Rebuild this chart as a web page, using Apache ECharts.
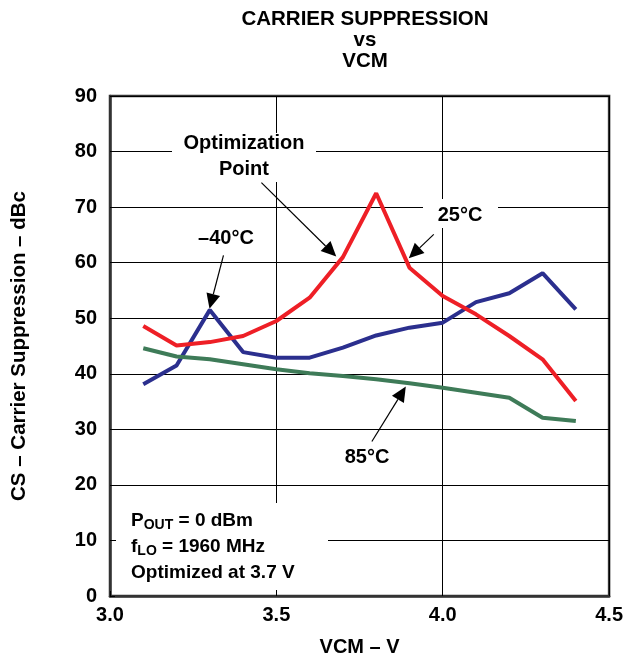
<!DOCTYPE html>
<html>
<head>
<meta charset="utf-8">
<title>Carrier Suppression vs VCM</title>
<script src="https://cdn.jsdelivr.net/npm/echarts@6/dist/echarts.min.js"></script>
<style>
  html, body { margin: 0; padding: 0; background: #fff; }
  #chart { width: 626px; height: 662px; }
</style>
</head>
<body>
<div id="chart"></div>
<script>
// VCM (V) sample points
var vcm = [3.1, 3.2, 3.3, 3.4, 3.5, 3.6, 3.7, 3.8, 3.9, 4.0, 4.1, 4.2, 4.3, 4.4];
// carrier suppression (dBc) per temperature
var cs25 = [48.6, 45.1, 45.7, 46.8, 49.5, 53.7, 61.0, 72.5, 59.1, 54.0, 50.7, 46.8, 42.6, 35.1];
var csMinus40 = [38.1, 41.5, 51.5, 43.9, 42.9, 42.9, 44.7, 46.9, 48.3, 49.2, 52.9, 54.5, 58.1, 51.6];
var cs85 = [44.6, 43.1, 42.6, 41.7, 40.8, 40.1, 39.6, 39.0, 38.3, 37.5, 36.6, 35.7, 32.1, 31.5];
var seriesNames = ['–40°C', '25°C', '85°C'];

var font = "'Liberation Sans', Arial, Helvetica, sans-serif";

function pairs(ys) {
    return vcm.map(function (x, i) { return [x, ys[i]]; });
}

var myChart = echarts.init(document.getElementById('chart'));

var option = {
    animation: false,
    title: {
        text: 'CARRIER SUPPRESSION\nvs\nVCM',
        left: 360,
        top: 4,
        textAlign: 'center',
        textStyle: { fontFamily: font, fontWeight: 'bold', fontSize: 20.5, lineHeight: 21, color: '#000' }
    },
    grid: {
        left: 110, right: 15, top: 96, bottom: 66,
        show: true, borderColor: '#333', borderWidth: 2.5
    },
    xAxis: {
        type: 'value', min: 3.0, max: 4.5, interval: 0.5,
        name: 'VCM – V', nameLocation: 'middle', nameGap: 41,
        nameTextStyle: { fontFamily: font, fontWeight: 'bold', fontSize: 20, color: '#000' },
        axisLine: { lineStyle: { color: '#333', width: 2.5 } },
        axisTick: { show: true, inside: true, length: 5, lineStyle: { color: '#000' } },
        axisLabel: {
            margin: 9, fontFamily: font, fontWeight: 'bold', fontSize: 20, color: '#000',
            formatter: function (v) { return v.toFixed(1); }
        },
        splitLine: { show: true, lineStyle: { color: '#000', width: 1 } }
    },
    yAxis: {
        type: 'value', min: 0, max: 90, interval: 10,
        name: 'CS – Carrier Suppression – dBc', nameLocation: 'middle', nameGap: 80,
        nameTextStyle: { fontFamily: font, fontWeight: 'bold', fontSize: 20.5, color: '#000' },
        axisLine: { show: true, lineStyle: { color: '#333', width: 2.5 } },
        axisTick: { show: true, inside: true, length: 5, lineStyle: { color: '#000' } },
        axisLabel: { margin: 13, fontFamily: font, fontWeight: 'bold', fontSize: 20, color: '#000' },
        splitLine: { show: true, lineStyle: { color: '#000', width: 1 } }
    },
    series: [{
        name: seriesNames[0], type: 'line', data: pairs(csMinus40), z: 3,
        symbol: 'none', lineStyle: { color: '#2b2f8e', width: 4 }
    }, {
        name: seriesNames[1], type: 'line', data: pairs(cs25), z: 4,
        symbol: 'none', lineStyle: { color: '#ee1f26', width: 4 }
    }, {
        name: seriesNames[2], type: 'line', data: pairs(cs85), z: 3,
        symbol: 'none', lineStyle: { color: '#3e7b58', width: 4 }
    }]
};

myChart.setOption(option);

// annotations: arrows given in data coords [from, tip]
var arrows = [
    [[3.455, 74.4], [3.680, 61.1]],
    [[3.341, 61.3], [3.299, 51.7]],
    [[3.973, 65.1], [3.898, 60.8]],
    [[3.787, 27.8], [3.889, 37.7]]
];

function arrowShapes(a) {
    var p0 = myChart.convertToPixel({ gridIndex: 0 }, a[0]);
    var p1 = myChart.convertToPixel({ gridIndex: 0 }, a[1]);
    var dx = p1[0] - p0[0], dy = p1[1] - p0[1];
    var len = Math.sqrt(dx * dx + dy * dy);
    var ux = dx / len, uy = dy / len;
    var hl = 15, hw = 7;
    var bx = p1[0] - ux * hl, by = p1[1] - uy * hl;
    return [{
        type: 'line', z: 10,
        shape: { x1: p0[0], y1: p0[1], x2: bx, y2: by },
        style: { stroke: '#000', lineWidth: 1.2 }
    }, {
        type: 'polygon', z: 10,
        shape: { points: [p1, [bx - uy * hw, by + ux * hw], [bx + uy * hw, by - ux * hw]] },
        style: { fill: '#000' }
    }];
}

function label(text, x, y, extra) {
    var o = {
        type: 'text', z: 10, x: x, y: y,
        style: {
            text: text, fontFamily: font, fontWeight: 'bold', fontSize: 20, fill: '#000',
            align: 'center', verticalAlign: 'middle', lineHeight: 26
        }
    };
    if (extra) { for (var k in extra) { o.style[k] = extra[k]; } }
    return o;
}

function whiteBox(x, y, w, h) {
    return { type: 'rect', z: 1, shape: { x: x, y: y, width: w, height: h }, style: { fill: '#fff' } };
}

var elements = [
    whiteBox(172, 133, 144, 49),
    whiteBox(423, 199, 75, 29),
    whiteBox(116, 503, 212, 87),
    label('Optimization\nPoint', 244, 156),
    label('–40°C', 226, 238),
    label('25°C', 460, 215),
    label('85°C', 367, 457),
    {
        type: 'text', z: 10, x: 131, y: 508,
        style: {
            text: 'P{sub|OUT} = 0 dBm\nf{sub|LO} = 1960 MHz\nOptimized at 3.7 V',
            fontFamily: font, fontWeight: 'bold', fontSize: 19, fill: '#000',
            align: 'left', verticalAlign: 'top', lineHeight: 26,
            rich: {
                sub: { fontFamily: font, fontWeight: 'bold', fontSize: 14, fill: '#000', padding: [8, 0, 0, 0] }
            }
        }
    }
];
arrows.forEach(function (a) { elements = elements.concat(arrowShapes(a)); });

myChart.setOption({ graphic: { elements: elements } });
</script>
</body>
</html>
